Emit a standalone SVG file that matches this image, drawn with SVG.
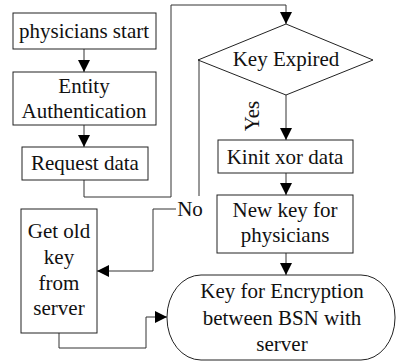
<svg xmlns="http://www.w3.org/2000/svg" width="396" height="362" viewBox="0 0 396 362" font-family="Liberation Serif, Times New Roman, serif" font-size="21">
<style>
.box{fill:#fff;stroke:#222;stroke-width:1}
.ln{fill:none;stroke:#333;stroke-width:1}
.t{fill:#111;text-anchor:middle}
</style>
<defs>
<marker id="ah" viewBox="0 0 12 12" refX="12" refY="6" markerWidth="12" markerHeight="12" markerUnits="userSpaceOnUse" orient="auto">
<path d="M0,0 L12,6 L0,12 Z" fill="#000"/>
</marker>
</defs>
<rect width="396" height="362" fill="#fff"/>
<g id="connectors">
<line class="ln" x1="84" y1="49" x2="84" y2="72" marker-end="url(#ah)"/>
<line class="ln" x1="84" y1="125" x2="84" y2="147" marker-end="url(#ah)"/>
<polyline class="ln" points="84,180 84,197 171,197 171,5 286,5 286,24" marker-end="url(#ah)"/>
<line class="ln" x1="286" y1="95" x2="286" y2="140" marker-end="url(#ah)"/>
<line class="ln" x1="286" y1="173" x2="286" y2="195" marker-end="url(#ah)"/>
<line class="ln" x1="286" y1="253" x2="286" y2="275" marker-end="url(#ah)"/>
<polyline class="ln" points="198,60 199,60 199,196"/>
<polyline class="ln" points="176,209 153,209 153,271 97,271" marker-end="url(#ah)"/>
<polyline class="ln" points="59,333 59,348 146,348 146,317 167,317" marker-end="url(#ah)"/>
<text class="t" x="190" y="216">No</text>
<text class="t" transform="translate(259,116) rotate(-90)">Yes</text>
</g>
<g id="start">
<rect class="box" x="13" y="13" width="143" height="36"/>
<text class="t" x="84" y="38">physicians start</text>
</g>
<g id="auth">
<rect class="box" x="13" y="72" width="143" height="53"/>
<text class="t" x="84" y="93">Entity</text>
<text class="t" x="84" y="118">Authentication</text>
</g>
<g id="request">
<rect class="box" x="22" y="147" width="126" height="33"/>
<text class="t" x="85" y="170">Request data</text>
</g>
<g id="expired">
<polygon class="box" points="286,24 373,60 286,95 198,60"/>
<text class="t" x="286" y="66">Key Expired</text>
</g>
<g id="kinit">
<rect class="box" x="218" y="140" width="135" height="33"/>
<text class="t" x="285" y="164">Kinit xor data</text>
</g>
<g id="newkey">
<rect class="box" x="217" y="195" width="136" height="58"/>
<text class="t" x="285" y="217">New key for</text>
<text class="t" x="285" y="242">physicians</text>
</g>
<g id="oldkey">
<rect class="box" x="21" y="209" width="76" height="124"/>
<text class="t" x="59" y="238">Get old</text>
<text class="t" x="59" y="264">key</text>
<text class="t" x="59" y="290">from</text>
<text class="t" x="59" y="315">server</text>
</g>
<g id="encryption">
<rect class="box" x="167" y="275" width="228" height="85" rx="34" ry="42"/>
<text class="t" x="282" y="298">Key for Encryption</text>
<text class="t" x="282" y="325">between BSN with</text>
<text class="t" x="282" y="351">server</text>
</g>
</svg>
